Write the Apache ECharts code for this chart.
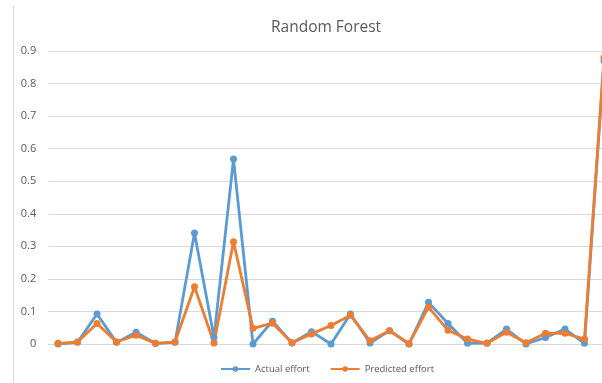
<!DOCTYPE html>
<html>
<head>
<meta charset="utf-8">
<script src="https://cdn.jsdelivr.net/npm/echarts@6/dist/echarts.min.js"></script>
<style>
html,body{margin:0;padding:0;background:#fff;}
#c{width:602px;height:383px;}
</style>
</head>
<body>
<div id="c"></div>
<script>
const categories = ["1","2","3","4","5","6","7","8","9","10","11","12","13","14","15","16","17","18","19","20","21","22","23","24","25","26","27","28","29"];
const actualEffort = [0,0.005,0.092,0.005,0.036,0.002,0.005,0.341,0.02,0.568,0,0.07,0.003,0.038,0,0.092,0.003,0.041,0,0.128,0.063,0.002,0.003,0.046,0,0.02,0.046,0.002,0.87];
const predictedEffort = [0.002,0.006,0.063,0.006,0.027,0.002,0.006,0.176,0.003,0.314,0.048,0.064,0.004,0.031,0.057,0.088,0.01,0.041,0.001,0.113,0.042,0.015,0.002,0.036,0.004,0.033,0.033,0.015,0.88];
const yTicks = [0,0.1,0.2,0.3,0.4,0.5,0.6,0.7,0.8,0.9];

const toPairs = arr => arr.map((v, i) => [i, v]);

const chart = echarts.init(document.getElementById('c'));
const font = '"Open Sans", "Liberation Sans", sans-serif';
chart.setOption({
  animation: false,
  backgroundColor: '#fff',
  title: {
    text: 'Random Forest',
    left: 266, top: 15,
    textStyle: {fontFamily: font, fontSize: 15.5, fontWeight: 'normal', color: '#595959'}
  },
  legend: {
    bottom: 4, left: 215,
    itemWidth: 29, itemHeight: 7, itemGap: 20,
    textStyle: {fontFamily: font, fontSize: 9.5, color: '#595959'},
    data: ['Actual effort', 'Predicted effort']
  },
  grid: {left: 48.25, right: 0, top: 51, bottom: 39, containLabel: false},
  xAxis: {
    type: 'value', min: -0.5, max: -0.5 + 553.75 / 19.5,
    axisLine: {show: true, onZero: false, lineStyle: {color: '#d9d9d9'}},
    axisTick: {show: false}, axisLabel: {show: false}, splitLine: {show: false}
  },
  yAxis: {
    type: 'value', min: 0, max: yTicks[yTicks.length-1], interval: 0.1,
    axisLine: {show: false}, axisTick: {show: false},
    axisLabel: {fontFamily: font, fontSize: 11, color: '#595959', margin: 12,
      formatter: v => (Math.round(v*10)/10).toString()},
    splitLine: {lineStyle: {color: '#d9d9d9', width: 1}}
  },
  graphic: [{
    type: 'line', shape: {x1: 13.5, y1: 6, x2: 13.5, y2: 383},
    style: {stroke: '#d9d9d9', lineWidth: 1}, silent: true
  }],
  series: [
    {name: 'Actual effort', type: 'line', data: toPairs(actualEffort), color: '#5B9BD5',
     symbol: 'circle', symbolSize: 7, lineStyle: {width: 2.8}, clip: false},
    {name: 'Predicted effort', type: 'line', data: toPairs(predictedEffort), color: '#ED7D31',
     symbol: 'circle', symbolSize: 7, lineStyle: {width: 2.8}, clip: false}
  ]
});
</script>
</body>
</html>
